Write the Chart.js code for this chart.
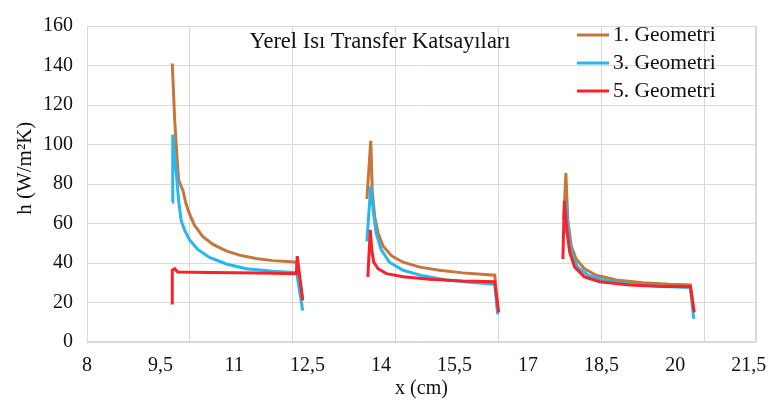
<!DOCTYPE html>
<html>
<head>
<meta charset="utf-8">
<script src="https://cdn.jsdelivr.net/npm/chart.js@4/dist/chart.umd.min.js"></script>
<style>
  html, body { margin: 0; padding: 0; background: #fff; }
</style>
</head>
<body>
<canvas id="lineChart" width="775" height="401"></canvas>
<script>
// Yerel Isı Transfer Katsayıları
const chartTitle = 'Yerel Isı Transfer Katsayıları';
const seriesNames = ['1. Geometri', '3. Geometri', '5. Geometri'];

// x (cm) / h (W/m2K), null breaks the line between the three sections
const geo1X = [9.74, 9.79, 9.84, 9.87, 9.96, 10.02, 10.09, 10.19, 10.36, 10.57, 10.84, 11.11, 11.45, 11.79, 12.1, 12.28, 12.4, null,
    13.71, 13.79, 13.82, 13.87, 13.94, 14.04, 14.21, 14.45, 14.79, 15.19, 15.67, 16.32, 16.38, null,
    17.73, 17.77, 17.81, 17.88, 17.98, 18.15, 18.39, 18.8, 19.34, 19.89, 20.31, 20.38];
const geo1Y = [141, 112, 92, 82, 76.5, 70, 65, 59.2, 53.5, 49.4, 46.1, 44, 42.3, 41.2, 40.7, 40.4, 22, null,
    72.4, 101.9, 76.5, 63.4, 55.1, 48.6, 43.7, 40.4, 37.9, 36.3, 35, 33.8, 15, null,
    62, 85.5, 61.7, 48.6, 42, 37.1, 33.8, 31.4, 30, 29.2, 28.9, 16];

const geo3X = [9.74, 9.75, 9.78, 9.82, 9.87, 9.92, 9.99, 10.09, 10.26, 10.5, 10.84, 11.25, 11.79, 12.28, 12.4, null,
    13.71, 13.79, 13.84, 13.9, 14.0, 14.17, 14.45, 14.85, 15.33, 15.81, 16.32, 16.38, null,
    17.75, 17.77, 17.83, 17.9, 18.01, 18.22, 18.52, 19.07, 19.75, 20.31, 20.38];
const geo3Y = [70.7, 105, 95, 86.3, 71.5, 61.7, 56.8, 51.8, 46.9, 42.8, 39.5, 37.1, 35.8, 35.1, 16, null,
    51, 78.9, 66.6, 55.1, 46.9, 40.4, 36.3, 33.5, 31.4, 30.2, 29.2, 14, null,
    55, 70.7, 53.5, 43.7, 37.9, 33.8, 31.4, 29.4, 28.1, 27.6, 11.7];

const geo5X = [9.74, 9.74, 9.79, 9.85, 10.5, 11.5, 12.27, 12.29, 12.4, null,
    13.73, 13.78, 13.81, 13.85, 13.94, 14.11, 14.45, 14.99, 15.67, 16.32, 16.4, null,
    17.71, 17.74, 17.79, 17.85, 17.95, 18.15, 18.46, 19.07, 19.75, 20.31, 20.39];
const geo5Y = [19, 36.3, 37.1, 35.4, 35.2, 34.9, 34.6, 43.5, 21, null,
    33, 56.8, 46.9, 40.4, 37.1, 34.6, 33, 31.8, 30.9, 30.5, 15, null,
    42, 71.5, 56.8, 45.3, 37.9, 33, 30.5, 28.9, 28.1, 28.1, 15];

const xTicks = [8, 9.5, 11, 12.5, 14, 15.5, 17, 18.5, 20, 21.5];
const xTickLabels = ['8', '9,5', '11', '12,5', '14', '15,5', '17', '18,5', '20', '21,5'];
const yTicks = [0, 20, 40, 60, 80, 100, 120, 140, 160];

function toPoints(xs, ys) {
    return xs.map((x, i) => (x === null ? { x: null, y: null } : { x: x, y: ys[i] }));
}

const serif = 'Liberation Serif, Times New Roman, serif';
const gridColor = '#d9d9d9';

// light border round the plot area
const plotBorder = {
    id: 'plotBorder',
    beforeDatasetsDraw(chart) {
        const a = chart.chartArea;
        const ctx = chart.ctx;
        ctx.save();
        ctx.strokeStyle = gridColor;
        ctx.lineWidth = 1;
        ctx.strokeRect(a.left + 0.5, a.top + 0.5, a.right - a.left - 1, a.bottom - a.top - 1);
        ctx.restore();
    }
};

// title and legend sit inside the plot area
const insideLabels = {
    id: 'insideLabels',
    afterDraw(chart) {
        const ctx = chart.ctx;
        ctx.save();
        ctx.fillStyle = '#111';
        ctx.font = '22.5px ' + serif;
        ctx.textAlign = 'center';
        ctx.textBaseline = 'middle';
        ctx.fillText(chartTitle, 380, 42);

        ctx.font = '21.5px ' + serif;
        ctx.textAlign = 'left';
        chart.data.datasets.forEach((ds, i) => {
            const y = 35 + i * 28;
            ctx.strokeStyle = ds.borderColor;
            ctx.lineWidth = 3;
            ctx.beginPath();
            ctx.moveTo(577, y);
            ctx.lineTo(609, y);
            ctx.stroke();
            ctx.fillText(ds.label, 613, y);
        });
        ctx.restore();
    }
};

const ctxEl = document.getElementById('lineChart');
const lineChart = new Chart(ctxEl, {
    type: 'line',
    data: {
        datasets: [{
            label: seriesNames[0],
            data: toPoints(geo1X, geo1Y),
            borderColor: '#c5773b',
            order: 3
        }, {
            label: seriesNames[1],
            data: toPoints(geo3X, geo3Y),
            borderColor: '#29b6ec',
            order: 2
        }, {
            label: seriesNames[2],
            data: toPoints(geo5X, geo5Y),
            borderColor: '#f8222a',
            order: 1
        }]
    },
    options: {
        responsive: false,
        animation: false,
        spanGaps: false,
        elements: {
            line: { borderWidth: 3, tension: 0, fill: false },
            point: { radius: 0 }
        },
        layout: { padding: { left: 0, top: 17, right: 19, bottom: 0 } },
        plugins: {
            legend: { display: false },
            tooltip: { enabled: false }
        },
        scales: {
            x: {
                type: 'linear',
                position: 'bottom',
                min: 8,
                max: 21.65,
                afterBuildTicks: (axis) => { axis.ticks = xTicks.map(v => ({ value: v })); },
                afterFit: (axis) => { axis.height = 59; },
                grid: { display: false },
                border: { display: false },
                ticks: {
                    autoSkip: false,
                    maxRotation: 0,
                    padding: 4,
                    color: '#111',
                    font: { family: serif, size: 20 },
                    callback: (value, index) => xTickLabels[index]
                },
                title: {
                    display: true,
                    text: 'x (cm)',
                    color: '#111',
                    font: { family: serif, size: 20 },
                    padding: { top: 0, bottom: 0 }
                }
            },
            xGrid: {
                type: 'linear',
                position: 'top',
                min: 0,
                max: 6.5,
                afterFit: (axis) => { axis.height = 0; },
                ticks: { display: false, stepSize: 1 },
                grid: { color: gridColor, drawTicks: false },
                border: { display: false }
            },
            y: {
                min: 0,
                max: 160,
                afterBuildTicks: (axis) => { axis.ticks = yTicks.map(v => ({ value: v })); },
                afterFit: (axis) => { axis.width = 87; },
                grid: { color: gridColor, drawTicks: false },
                border: { display: false },
                ticks: {
                    padding: 14,
                    color: '#111',
                    font: { family: serif, size: 20 }
                },
                title: {
                    display: true,
                    // leading spaces lift the rotated label slightly above the centre, as in the original
                    text: '      h (W/m²K)',
                    color: '#111',
                    font: { family: serif, size: 21 },
                    padding: { top: 13, bottom: 0 }
                }
            }
        }
    },
    plugins: [plotBorder, insideLabels]
});
</script>
</body>
</html>
